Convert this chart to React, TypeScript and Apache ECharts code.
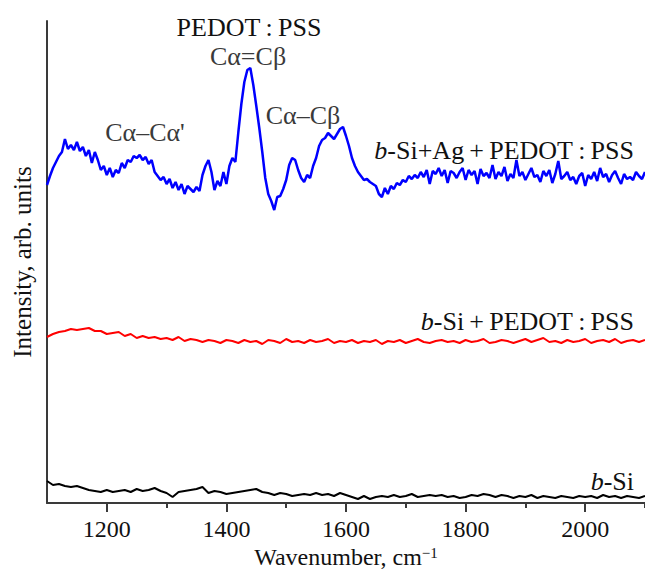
import React, { useEffect, useRef } from "react";
import * as echarts from "echarts";

// Wavenumber grids (cm^-1)
const BLUE_START = 1100;
const BLUE_STEP = 5;
const LINE_START = 1100;
const LINE_STEP = 10;

// b-Si + Ag + PEDOT:PSS (arb. units)
const blueValues = [
  318, 327, 335, 341, 347, 351, 364, 354, 358, 353, 361, 352, 356, 347, 353, 340, 351, 343, 333, 337,
  328, 335, 326, 333, 330, 340, 335, 343, 341, 347, 345, 348, 343, 346, 339, 343, 331, 327, 323, 326,
  319, 324, 315, 321, 313, 319, 309, 317, 314, 311, 316, 312, 328, 337, 343, 331, 313, 322, 317, 331,
  319, 337, 345, 341, 371, 399, 421, 433, 435, 418, 397, 375, 351, 325, 309, 302, 293, 306, 307, 314,
  323, 338, 345, 343, 333, 325, 321, 328, 325, 337, 345, 357, 363, 365, 370, 367, 364, 369, 374, 376,
  367, 357, 345, 337, 331, 327, 323, 324, 321, 319, 317, 309, 306, 315, 309, 317, 314, 320, 318, 323,
  321, 327, 324, 328, 325, 331, 326, 333, 319, 332, 329, 335, 327, 333, 320, 332, 330, 325, 331, 335,
  323, 333, 328, 332, 319, 334, 327, 330, 325, 338, 324, 331, 327, 336, 322, 329, 325, 343, 327, 331,
  323, 329, 335, 326, 328, 321, 332, 327, 333, 320, 329, 342, 324, 327, 331, 323, 326, 319, 327, 330,
  317, 328, 324, 331, 322, 335, 326, 329, 321, 328, 332, 325, 319, 329, 324, 326, 323, 331, 327, 324,
  331,
];

// b-Si + PEDOT:PSS (arb. units)
const redValues = [
  166, 169, 171, 172, 174, 173, 174, 175, 172, 172, 169, 170, 171, 167, 169, 165, 167, 165, 166, 164,
  165, 163, 166, 162, 164, 163, 161, 163, 162, 160, 163,
  162, 160, 163, 161, 162, 159, 163, 162, 160, 164,
  161, 162, 160, 163, 161, 162, 164, 160, 162, 161,
  163, 160, 162, 161, 163, 159, 162, 161, 163, 160,
  162, 164, 161, 160, 162, 163, 161, 162, 160, 163,
  161, 162, 164, 160, 161, 163, 162, 160, 162, 164,
  161, 163, 165, 161, 162, 160, 163, 161, 162, 164,
  160, 162, 163, 161, 164, 160, 162, 163, 161, 163,
];

// b-Si (arb. units)
const blackValues = [
  22, 18, 19, 17, 16, 17, 15, 13, 12, 11, 13, 11, 12, 13, 11, 14, 12, 13, 15, 12,
  10, 6, 11, 12, 13, 14, 16, 10, 12, 11, 9, 10, 11, 12, 13, 14, 11, 10, 8, 10,
  9, 7, 8, 9, 8, 10, 8, 9, 7, 10, 8, 6, 4, 7, 4, 6, 7, 6, 8, 6,
  7, 9, 6, 7, 8, 7, 8, 6, 7, 5, 6, 8, 7, 9, 8, 6, 8, 7, 5, 7,
  6, 8, 5, 7, 6, 5, 7, 6, 5, 7, 6, 7, 5, 8, 6, 7, 5, 7, 6, 5,
  7,
];

// Axis ticks (cm^-1)
const X_MIN = 1100;
const X_MAX = 2100;
const MAJOR_FIRST = 1200; // first labelled tick
const MINOR_FIRST = 1300; // first unlabelled tick
const TICK_INTERVAL = 200;
const Y_MIN = 0;
const Y_MAX = 482;

const SERIF = "'Liberation Serif', 'Times New Roman', serif";
const AXIS_COLOR = "#3a3a3a";

const GRID_LEFT = 47;
const GRID_RIGHT = 0;
const GRID_TOP = 21;
const GRID_BOTTOM = 67;
const PLOT_WIDTH = 645 - GRID_LEFT - GRID_RIGHT;
const PX_PER_UNIT = PLOT_WIDTH / (X_MAX - X_MIN);

function toPairs(values: number[], start: number, step: number) {
  return values.map((v, i) => [start + i * step, v]);
}

function labelText(text: string, x: number, y: number, align: string, color: string) {
  return {
    type: "text",
    x,
    y,
    silent: true,
    style: {
      text,
      textAlign: align,
      textVerticalAlign: "middle",
      fontFamily: SERIF,
      fontSize: 26,
      fill: color,
      rich: {
        i: { fontFamily: SERIF, fontSize: 26, fontStyle: "italic", fill: color },
      },
    },
  };
}

function makeGrid(left: number) {
  return {
    left,
    right: GRID_RIGHT,
    top: GRID_TOP,
    bottom: GRID_BOTTOM,
    containLabel: false,
    outerBoundsMode: "none",
  };
}

export default function App() {
  const ref = useRef<HTMLDivElement>(null);

  useEffect(() => {
    if (!ref.current) return;
    const chart = echarts.init(ref.current, null, { renderer: "svg" });
    const hiddenY = (gridIndex: number) => ({
      type: "value",
      gridIndex,
      min: Y_MIN,
      max: Y_MAX,
      axisLine: { show: false },
      axisTick: { show: false },
      axisLabel: { show: false },
      splitLine: { show: false },
    });
    const option: any = {
      animation: false,
      backgroundColor: "#ffffff",
      grid: [
        makeGrid(GRID_LEFT),
        makeGrid(GRID_LEFT + (MAJOR_FIRST - X_MIN) * PX_PER_UNIT),
        makeGrid(GRID_LEFT + (MINOR_FIRST - X_MIN) * PX_PER_UNIT),
      ],
      xAxis: [
        {
          type: "value",
          gridIndex: 0,
          min: X_MIN,
          max: X_MAX,
          axisLine: { show: true, onZero: false, lineStyle: { color: AXIS_COLOR, width: 2 } },
          axisTick: { show: false },
          splitLine: { show: false },
          axisLabel: { show: false },
          name: "Wavenumber, cm{sup|\u22121}",
          nameLocation: "middle",
          nameGap: 42,
          nameTextStyle: {
            fontFamily: SERIF,
            fontSize: 24,
            color: "#111",
            rich: {
              sup: { fontFamily: SERIF, fontSize: 15, color: "#111", verticalAlign: "top" },
            },
          },
        },
        {
          type: "value",
          gridIndex: 1,
          min: MAJOR_FIRST,
          max: X_MAX,
          interval: TICK_INTERVAL,
          axisLine: { show: true, onZero: false, lineStyle: { color: AXIS_COLOR, width: 2 } },
          axisTick: { show: true, length: 9, lineStyle: { color: AXIS_COLOR, width: 2 } },
          splitLine: { show: false },
          axisLabel: {
            showMaxLabel: false,
            margin: 14,
            fontFamily: SERIF,
            fontSize: 24,
            color: "#111",
            formatter: (v: number) => String(v),
          },
        },
        {
          type: "value",
          gridIndex: 2,
          min: MINOR_FIRST,
          max: X_MAX,
          interval: TICK_INTERVAL,
          axisLine: { show: true, onZero: false, lineStyle: { color: AXIS_COLOR, width: 2 } },
          axisTick: { show: true, length: 5, lineStyle: { color: AXIS_COLOR, width: 2 } },
          splitLine: { show: false },
          axisLabel: { show: false },
        },
      ],
      yAxis: [
        {
          type: "value",
          gridIndex: 0,
          min: Y_MIN,
          max: Y_MAX,
          axisLine: { show: true, lineStyle: { color: AXIS_COLOR, width: 2 } },
          axisTick: { show: false },
          axisLabel: { show: false },
          splitLine: { show: false },
          name: "Intensity, arb. units",
          nameLocation: "middle",
          nameGap: 12,
          nameTextStyle: { fontFamily: SERIF, fontSize: 25, color: "#111" },
        },
        hiddenY(1),
        hiddenY(2),
      ],
      series: [
        {
          name: "b-Si",
          type: "line",
          xAxisIndex: 0,
          yAxisIndex: 0,
          showSymbol: false,
          symbol: "none",
          data: toPairs(blackValues, LINE_START, LINE_STEP),
          lineStyle: { color: "#000000", width: 2 },
          z: 3,
        },
        {
          name: "b-Si+PEDOT:PSS",
          type: "line",
          xAxisIndex: 0,
          yAxisIndex: 0,
          showSymbol: false,
          symbol: "none",
          data: toPairs(redValues, LINE_START, LINE_STEP),
          lineStyle: { color: "#ff0000", width: 2 },
          z: 3,
        },
        {
          name: "b-Si+Ag+PEDOT:PSS",
          type: "line",
          xAxisIndex: 0,
          yAxisIndex: 0,
          showSymbol: false,
          symbol: "none",
          data: toPairs(blueValues, BLUE_START, BLUE_STEP),
          lineStyle: { color: "#0000ff", width: 2.5 },
          z: 3,
        },
      ],
      graphic: [
        labelText("PEDOT\u2009:\u2009PSS", 249, 27, "center", "#111"),
        labelText("C\u03b1=C\u03b2", 248, 56, "center", "#3a3a3a"),
        labelText("C\u03b1\u2013C\u03b1'", 145, 132, "center", "#3a3a3a"),
        labelText("C\u03b1\u2013C\u03b2", 303, 115, "center", "#3a3a3a"),
        labelText("{i|b}-Si+Ag\u2009+\u2009PEDOT\u2009:\u2009PSS", 634, 150, "right", "#111"),
        labelText("{i|b}-Si\u2009+\u2009PEDOT\u2009:\u2009PSS", 634, 321, "right", "#111"),
        labelText("{i|b}-Si", 634, 481, "right", "#111"),
      ],
    };
    chart.setOption(option);
    return () => chart.dispose();
  }, []);

  return (
    <div
      ref={ref}
      style={{ position: "absolute", left: 0, top: 0, width: 645, height: 570, background: "#fff" }}
    />
  );
}
